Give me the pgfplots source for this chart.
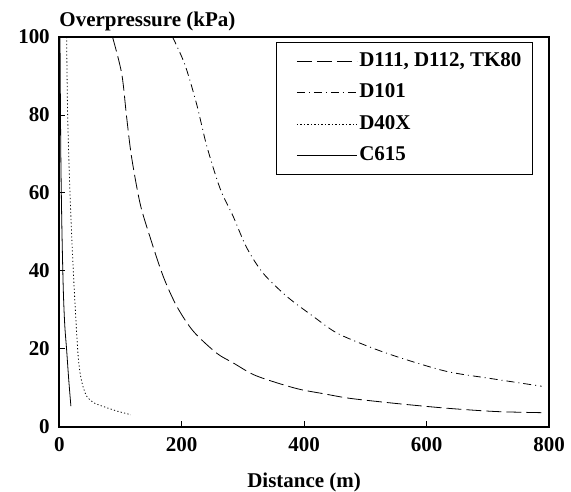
\documentclass[border=0pt]{standalone}
\usepackage{fontspec}
\setmainfont{Liberation Serif}
\usepackage{pgfplots}
\pgfplotsset{compat=1.18}
\newcommand{\ff}{\fontsize{21}{25}\selectfont\bfseries}
\begin{document}
\begin{tikzpicture}
\begin{axis}[
  scale only axis, width=490pt, height=390pt,
  xmin=0, xmax=800, ymin=0, ymax=100,
  xtick={0,200,400,600,800}, ytick={0,20,40,60,80,100},
  tick align=inside, xtick pos=left, ytick pos=left,
  major tick length=6pt,
  axis line style={line width=1.6pt},
  every tick/.style={black, line width=0.8pt},
  /pgf/number format/assume math mode=true,
  ticklabel style={font=\ff},
  xticklabel style={yshift=-7.5pt},
  yticklabel style={xshift=-6pt},
  xlabel={Distance (m)},
  ylabel={Overpressure (kPa)},
  every axis x label/.style={at={(axis description cs:0.5,0)}, anchor=north, inner sep=0pt, yshift=-45.5pt, font=\ff},
  every axis y label/.style={at={(axis description cs:0,1)}, anchor=base west, inner sep=0pt, yshift=10pt, font=\ff},
  legend image code/.code={\path (0pt,0pt); \draw[#1,sharp plot] (11pt,0pt) -- (71pt,0pt);},
  legend cell align=left,
  legend style={at={(axis description cs:1,1)}, anchor=north east, xshift=-16pt, yshift=-5pt,
    draw=black, line width=1.3pt, font=\ff, inner xsep=9pt, inner ysep=7.75pt,
    nodes={inner sep=2pt, text height=14pt, text depth=4pt}, row sep=9.5pt},
]
\addplot[black, line width=0.8pt, smooth, tension=0.5, dash pattern=on 15pt off 5pt] coordinates {
(87,100) (102,90.6) (110,79.5) (118,69.3) (132,57.3) (148,48.8) (170,38.5) (192,30.9) (219,24.5) (257,18.9) (284,16.4) (317,13.4) (355,11.3) (393,9.6) (431,8.5) (470,7.4) (513,6.6) (568,5.7) (638,4.7) (715,3.9) (795,3.6)
};
\addlegendentry{D111, D112, TK80}
\addplot[black, line width=0.8pt, smooth, tension=0.5, dash pattern=on 8pt off 4pt on 1pt off 4pt] coordinates {
(185,100) (205,93) (224,83) (241,72) (263,61) (284,54) (306,46) (333,39.4) (372,33.4) (415,28.3) (453,24.1) (505,20.6) (557,17.7) (633,14.2) (704,12.4) (788,10.4)
};
\addlegendentry{D101}
\addplot[black, line width=0.8pt, smooth, tension=0.5, dash pattern=on 1.2pt off 2.3pt] coordinates {
(12,100) (13.7,80) (17.5,60) (22.9,40) (30,20) (34,13.8) (39,10.2) (45,7.8) (56,6.2) (72,5.2) (95,4) (117,3.1)
};
\addlegendentry{D40X}
\addplot[black, line width=0.8pt, smooth, tension=0.5] coordinates {
(1.2,100) (2,80) (2.8,66) (4.4,50) (6.6,35) (9,26) (12,19.8) (15.5,12) (19,5.3)
};
\addlegendentry{C615}
\end{axis}
\path (current axis.south west) ++(-59.3pt,-64.7pt) coordinate (bl);
\path (current axis.north east) ++(22pt,37pt) coordinate (tr);
\pgfresetboundingbox
\path (bl) rectangle (tr);
\end{tikzpicture}
\end{document}
